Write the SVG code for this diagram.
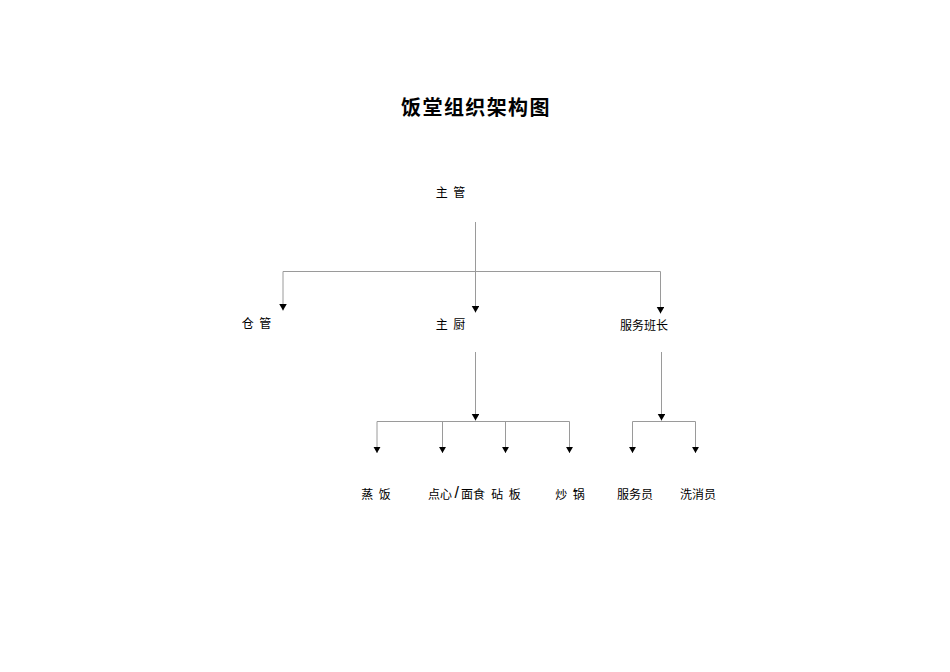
<svg xmlns="http://www.w3.org/2000/svg" width="950" height="672" viewBox="0 0 950 672">
<style>
text{font-family:"Liberation Sans","Noto Sans CJK SC",sans-serif;fill:#000;font-size:12px;word-spacing:2px}
.title{font-size:20px;font-weight:bold;letter-spacing:1.4px}
.ln{stroke:#9a9a9a;stroke-width:1;fill:none}
.ar{marker-end:url(#arr)}
</style>
<defs>
<marker id="arr" markerUnits="userSpaceOnUse" markerWidth="9" markerHeight="9" refX="6.5" refY="3.75" orient="auto">
<path d="M0,0 L6.5,3.75 L0,7.5 z" fill="#000"/>
</marker>
</defs>
<rect width="950" height="672" fill="#fff"/>
<text class="title" x="476" y="115" text-anchor="middle">饭堂组织架构图</text>
<g id="connectors">
<line class="ln ar" x1="475.5" y1="222" x2="475.5" y2="312.5"/>
<line class="ln" x1="283" y1="271.5" x2="660.5" y2="271.5"/>
<line class="ln ar" x1="283" y1="271.5" x2="283" y2="310.5"/>
<line class="ln ar" x1="660.5" y1="271.5" x2="660.5" y2="313.5"/>
<line class="ln ar" x1="475.5" y1="352" x2="475.5" y2="420.5"/>
<line class="ln" x1="377" y1="421.5" x2="569.5" y2="421.5"/>
<line class="ln ar" x1="377" y1="421.5" x2="377" y2="453"/>
<line class="ln ar" x1="442.5" y1="421.5" x2="442.5" y2="453"/>
<line class="ln ar" x1="505.5" y1="421.5" x2="505.5" y2="453"/>
<line class="ln ar" x1="569.5" y1="421.5" x2="569.5" y2="453"/>
<line class="ln ar" x1="661.5" y1="352" x2="661.5" y2="420.5"/>
<line class="ln" x1="632.5" y1="421.5" x2="695.5" y2="421.5"/>
<line class="ln ar" x1="632.5" y1="421.5" x2="632.5" y2="453"/>
<line class="ln ar" x1="695.5" y1="421.5" x2="695.5" y2="453"/>
</g>
<g id="n-zhuguan"><text x="450.5" y="197" text-anchor="middle">主 管</text></g>
<g id="n-cangguan"><text x="256.5" y="327.5" text-anchor="middle">仓 管</text></g>
<g id="n-zhuchu"><text x="450.5" y="328.5" text-anchor="middle">主 厨</text></g>
<g id="n-fuwubanzhang"><text x="644" y="329.5" text-anchor="middle">服务班长</text></g>
<g id="n-zhengfan"><text x="376" y="498.5" text-anchor="middle">蒸 饭</text></g>
<g id="n-dianxin"><text y="499"><tspan x="428">点心</tspan><tspan x="454.5" y="498" font-size="16">/</tspan><tspan x="461" y="499">面食</tspan></text></g>
<g id="n-zhanban"><text x="506" y="498.5" text-anchor="middle">砧 板</text></g>
<g id="n-chaoguo"><text x="570" y="498.5" text-anchor="middle">炒 锅</text></g>
<g id="n-fuwuyuan"><text x="635" y="498.5" text-anchor="middle">服务员</text></g>
<g id="n-xixiaoyuan"><text x="698" y="498.5" text-anchor="middle">洗消员</text></g>
</svg>
